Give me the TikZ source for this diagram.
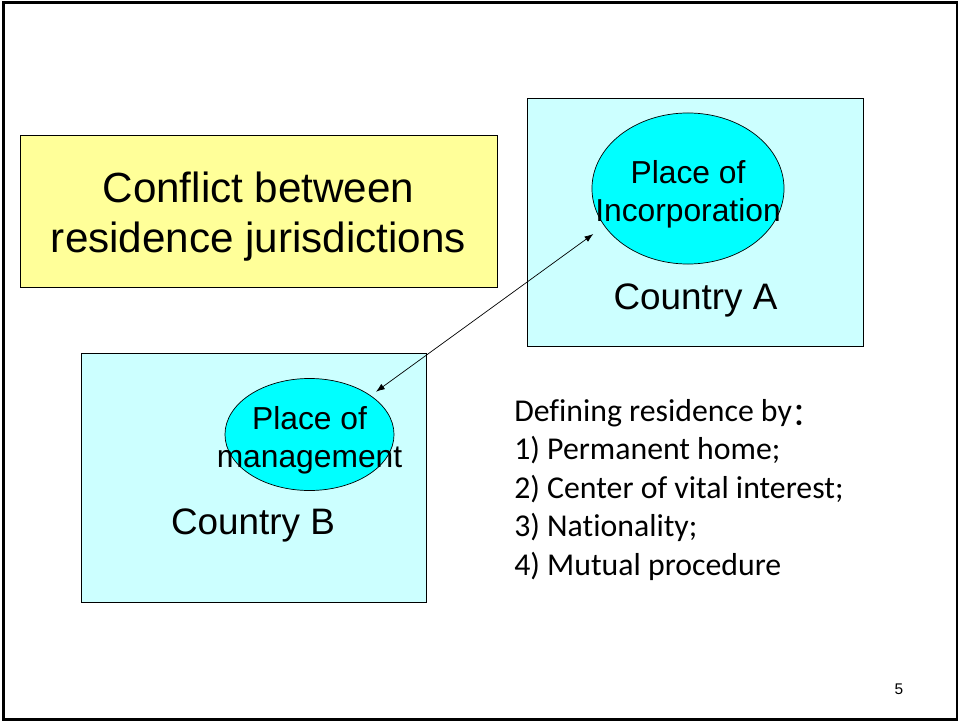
\documentclass[tikz,border=0pt]{standalone}
\usepackage{fontspec}
\setmainfont{Liberation Sans}
\newfontfamily\listfont[Ligatures=NoCommon]{Carlito}
\newfontfamily\cjkfont{Noto Sans CJK SC}
\usetikzlibrary{shapes}
\usetikzlibrary{arrows.meta}
\definecolor{boxyellow}{HTML}{FFFF99}
\definecolor{palecyan}{HTML}{CCFFFF}
\definecolor{ovalcyan}{HTML}{00FFFF}
\tikzset{
        % Yellow title box
        box_title/.style={rectangle, draw=black, line width=0.6pt, fill=boxyellow, inner sep=0pt},
        % Country boxes
        box_country/.style={rectangle, draw=black, line width=0.6pt, fill=palecyan, inner sep=0pt},
        % Ovals inside the countries
        node_place/.style={ellipse, draw=black, line width=0.5pt, fill=ovalcyan, inner sep=0pt},
        % Texts
        text_title/.style={align=center, inner sep=0pt, font=\fontsize{30}{35}\selectfont},
        text_place/.style={align=center, inner sep=0pt, font=\fontsize{22.6}{26.8}\selectfont},
        text_country/.style={inner sep=0pt, font=\fontsize{26.2}{30}\selectfont},
        text_list/.style={align=left, inner sep=0pt, font=\listfont\fontsize{22.6}{27.3}\selectfont}
}
\begin{document}
\begin{tikzpicture}[x=0.025cm, y=-0.025cm]
            \useasboundingbox (0,0) rectangle (960,722);
            \draw[line width=2.1pt] (3.3,2.8) rectangle (957,719.2);
            % Title
            \node[box_title, minimum width=11.925cm, minimum height=3.8cm] (conflict) at (258.5,211) {};
            \node[text_title] (conflict_text) at (258.5,216.5) {Conflict between\\residence jurisdictions};
            % Country A
            \node[box_country, minimum width=8.4cm, minimum height=6.2cm] (countryA) at (695,222) {};
            \node[node_place, minimum width=4.8cm, minimum height=3.775cm] (incorp) at (688,188.5) {};
            \node[text_place] (incorp_text) at (688,194) {Place of\\Incorporation};
            \node[text_country, anchor=base] (countryA_label) at (695.5,309.3) {Country A};
            % Country B
            \node[box_country, minimum width=8.625cm, minimum height=6.225cm] (countryB) at (253.5,477.5) {};
            \node[node_place, minimum width=4.225cm, minimum height=2.8cm] (mgmt) at (309.5,434.5) {};
            \node[text_place] (mgmt_text) at (309.5,440) {Place of\\management};
            \node[text_country, anchor=base] (countryB_label) at (253,534.3) {Country B};
            % Conflict arrow
            \coordinate (incorp_tip) at (593.3,234);
            \coordinate (mgmt_tip) at (376,391.7);
            \draw[{Latex[length=0.22cm,width=0.16cm]}-{Latex[length=0.22cm,width=0.16cm]}, line width=0.5pt] (mgmt_tip) -- (incorp_tip);
            % Tie-breaker rules
            \node[text_list, anchor=base west] (criteria) at (514,575) {Defining residence by\raisebox{-3pt}{\cjkfont ：}\\1) Permanent home;\\2) Center of vital interest;\\3) Nationality;\\4) Mutual procedure};
            \node[inner sep=0pt, font=\fontsize{11}{13}\selectfont, anchor=base] (page_no) at (899,694) {5};
\end{tikzpicture}
\end{document}
